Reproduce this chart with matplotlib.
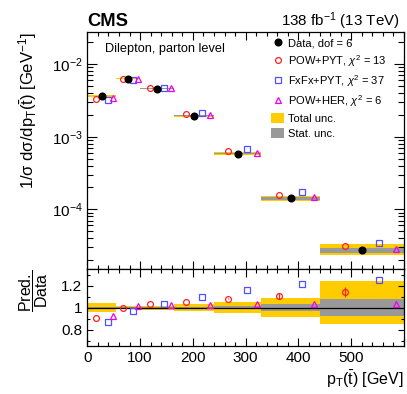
import numpy as np
import matplotlib
matplotlib.use("Agg")
import matplotlib.pyplot as plt
from matplotlib.patches import Patch
from matplotlib.lines import Line2D
from matplotlib.ticker import MultipleLocator, LogLocator, FixedLocator, FuncFormatter, NullFormatter

plt.rcParams['font.family'] = ['Liberation Sans', 'DejaVu Sans']
plt.rcParams['mathtext.fontset'] = 'custom'
plt.rcParams['mathtext.rm'] = 'Liberation Sans'
plt.rcParams['mathtext.it'] = 'Liberation Sans:italic'
plt.rcParams['mathtext.bf'] = 'Liberation Sans:bold'

# ---- data ----
bin_edges = [0, 55, 100, 165, 240, 330, 440, 600]
data = [3.65e-3, 6.26e-3, 4.6e-3, 1.95e-3, 5.82e-4, 1.41e-4, 2.71e-5]
ratio_powpyt = [0.904, 0.995, 1.03, 1.051, 1.081, 1.105, 1.138]
ratio_powpyt_err = [0.0, 0.0, 0.0, 0.0, 0.005, 0.027, 0.045]
ratio_fxfx = [0.871, 0.973, 1.03, 1.094, 1.162, 1.216, 1.252]
ratio_powher = [0.925, 1.01, 1.024, 1.024, 1.033, 1.036, 1.036]
tot_up = [0.04, 0.015, 0.018, 0.028, 0.047, 0.083, 0.243]
tot_dn = [0.036, 0.015, 0.018, 0.028, 0.045, 0.083, 0.147]
stat_unc = [0.006, 0.004, 0.005, 0.008, 0.015, 0.035, 0.075]

edges = np.array(bin_edges, dtype=float)
lo, hi = edges[:-1], edges[1:]
w = hi - lo
xc = lo + 0.5 * w
x_red = lo + 0.3 * w
x_blue = lo + 0.7 * w
x_mag = lo + 0.9 * w
d = np.array(data)
r_red = np.array(ratio_powpyt)
r_blue = np.array(ratio_fxfx)
r_mag = np.array(ratio_powher)
tu, td, su = np.array(tot_up), np.array(tot_dn), np.array(stat_unc)

YEL = '#FFCC00'
GRY = '#999999'
RED = '#FF2020'
BLUE = '#5050FF'
MAG = '#EE00EE'

fig = plt.figure(figsize=(4.07, 3.94), dpi=100)
L, R = 0.2145, 0.9926
ax = fig.add_axes([L, 0.317, R - L, 0.9188 - 0.317])
axr = fig.add_axes([L, 0.1218, R - L, 0.317 - 0.1218], sharex=ax)

# top panel bands
for i in range(len(d)):
    ax.fill_between([lo[i], hi[i]], d[i] * (1 - td[i]), d[i] * (1 + tu[i]), color=YEL, lw=0, zorder=1)
    ax.fill_between([lo[i], hi[i]], d[i] * (1 - su[i]), d[i] * (1 + su[i]), color=GRY, lw=0, zorder=2)
ax.plot(x_red, r_red * d, 'o', mfc='none', mec=RED, ms=4.2, mew=0.9, zorder=4)
ax.plot(x_blue, r_blue * d, 's', mfc='none', mec=BLUE, ms=4.6, mew=0.9, zorder=4)
ax.plot(x_mag, r_mag * d, '^', mfc='none', mec=MAG, ms=4.4, mew=0.9, zorder=4)
ax.plot(xc, d, 'o', color='black', ms=4.8, zorder=5)
ax.set_yscale('log')
ax.set_ylim(1.5e-5, 2.77e-2)
ax.set_xlim(0, 600)

# ratio panel
for i in range(len(d)):
    axr.fill_between([lo[i], hi[i]], 1 - td[i], 1 + tu[i], color=YEL, lw=0, zorder=1)
    axr.fill_between([lo[i], hi[i]], 1 - su[i], 1 + su[i], color=GRY, lw=0, zorder=2)
axr.axhline(1.0, color='black', lw=0.9, zorder=3)
axr.errorbar(x_red, r_red, yerr=ratio_powpyt_err, fmt='o', mfc='none', mec=RED, ecolor=RED,
             ms=4.2, mew=0.9, elinewidth=0.9, zorder=4)
axr.plot(x_blue, r_blue, 's', mfc='none', mec=BLUE, ms=4.6, mew=0.9, zorder=4)
axr.plot(x_mag, r_mag, '^', mfc='none', mec=MAG, ms=4.4, mew=0.9, zorder=4)
axr.set_ylim(0.65, 1.35)

# ticks
for a in (ax, axr):
    a.tick_params(which='both', direction='in', top=True, right=True, labelsize=11)
    a.tick_params(which='major', length=5.5, width=0.8)
    a.tick_params(which='minor', length=3, width=0.8)
    for s in a.spines.values():
        s.set_linewidth(0.9)
axr.xaxis.set_major_locator(MultipleLocator(100))
axr.xaxis.set_minor_locator(MultipleLocator(20))
axr.xaxis.set_major_formatter(FuncFormatter(lambda v, p: '' if v > 550 else f'{v:.0f}'))
plt.setp(ax.get_xticklabels(), visible=False)
ax.yaxis.set_major_locator(LogLocator(base=10, numticks=10))
ax.yaxis.set_minor_locator(LogLocator(base=10, subs=np.arange(2, 10), numticks=20))
ax.yaxis.set_minor_formatter(NullFormatter())
ax.tick_params(axis='y', which='major', length=7.2)
ax.tick_params(axis='y', which='minor', length=4)
axr.tick_params(axis='y', which='major', length=4)
axr.tick_params(axis='y', which='minor', length=2.3)
axr.yaxis.set_major_locator(FixedLocator([0.8, 1.0, 1.2]))
axr.yaxis.set_minor_locator(MultipleLocator(0.1))
axr.yaxis.set_major_formatter(FuncFormatter(lambda v, p: '1' if abs(v - 1) < 1e-6 else f'{v:.1f}'))

# labels
ax.set_ylabel(r'$\mathrm{1/\sigma\ d\sigma/dp_{T}(\bar{t})\ [GeV^{-1}]}$', fontsize=12, loc='top', labelpad=9)
axr.set_ylabel(r'$\dfrac{\mathrm{Pred.}}{\mathrm{Data}}$', fontsize=11.5, loc='top', labelpad=8)
axr.set_xlabel(r'$\mathrm{p_{T}(\bar{t})\ [GeV]}$', fontsize=11.5, loc='right', labelpad=3)
fig.text(L, 0.934, 'CMS', fontsize=13.2, fontweight='bold', ha='left', va='baseline')
fig.text(0.982, 0.934, r'138 fb$^{\mathregular{-1}}$ (13 TeV)', fontsize=10.9, ha='right', va='baseline')
ax.text(0.057, 0.955, 'Dilepton, parton level', transform=ax.transAxes, fontsize=9.2, ha='left', va='top')

handles = [
    Line2D([], [], ls='none', marker='o', color='black', ms=4.8),
    Line2D([], [], ls='none', marker='o', mfc='none', mec=RED, ms=4.2, mew=0.9),
    Line2D([], [], ls='none', marker='s', mfc='none', mec=BLUE, ms=4.6, mew=0.9),
    Line2D([], [], ls='none', marker='^', mfc='none', mec=MAG, ms=4.4, mew=0.9),
    Patch(facecolor=YEL, edgecolor='none'),
    Patch(facecolor=GRY, edgecolor='none'),
]
labels = ['Data, dof = 6', r'POW+PYT, $\chi^{2}$ = 13', r'FxFx+PYT, $\chi^{2}$ = 37',
          r'POW+HER, $\chi^{2}$ = 6', 'Total unc.', 'Stat. unc.']
ax.legend(handles, labels, loc='upper left', bbox_to_anchor=(0.58, 0.975), frameon=False,
          fontsize=8, handlelength=1.2, handleheight=1.0, handletextpad=0.3, labelspacing=0.38,
          borderaxespad=0.0, borderpad=0.0)

fig.savefig('out.png', dpi=100)
